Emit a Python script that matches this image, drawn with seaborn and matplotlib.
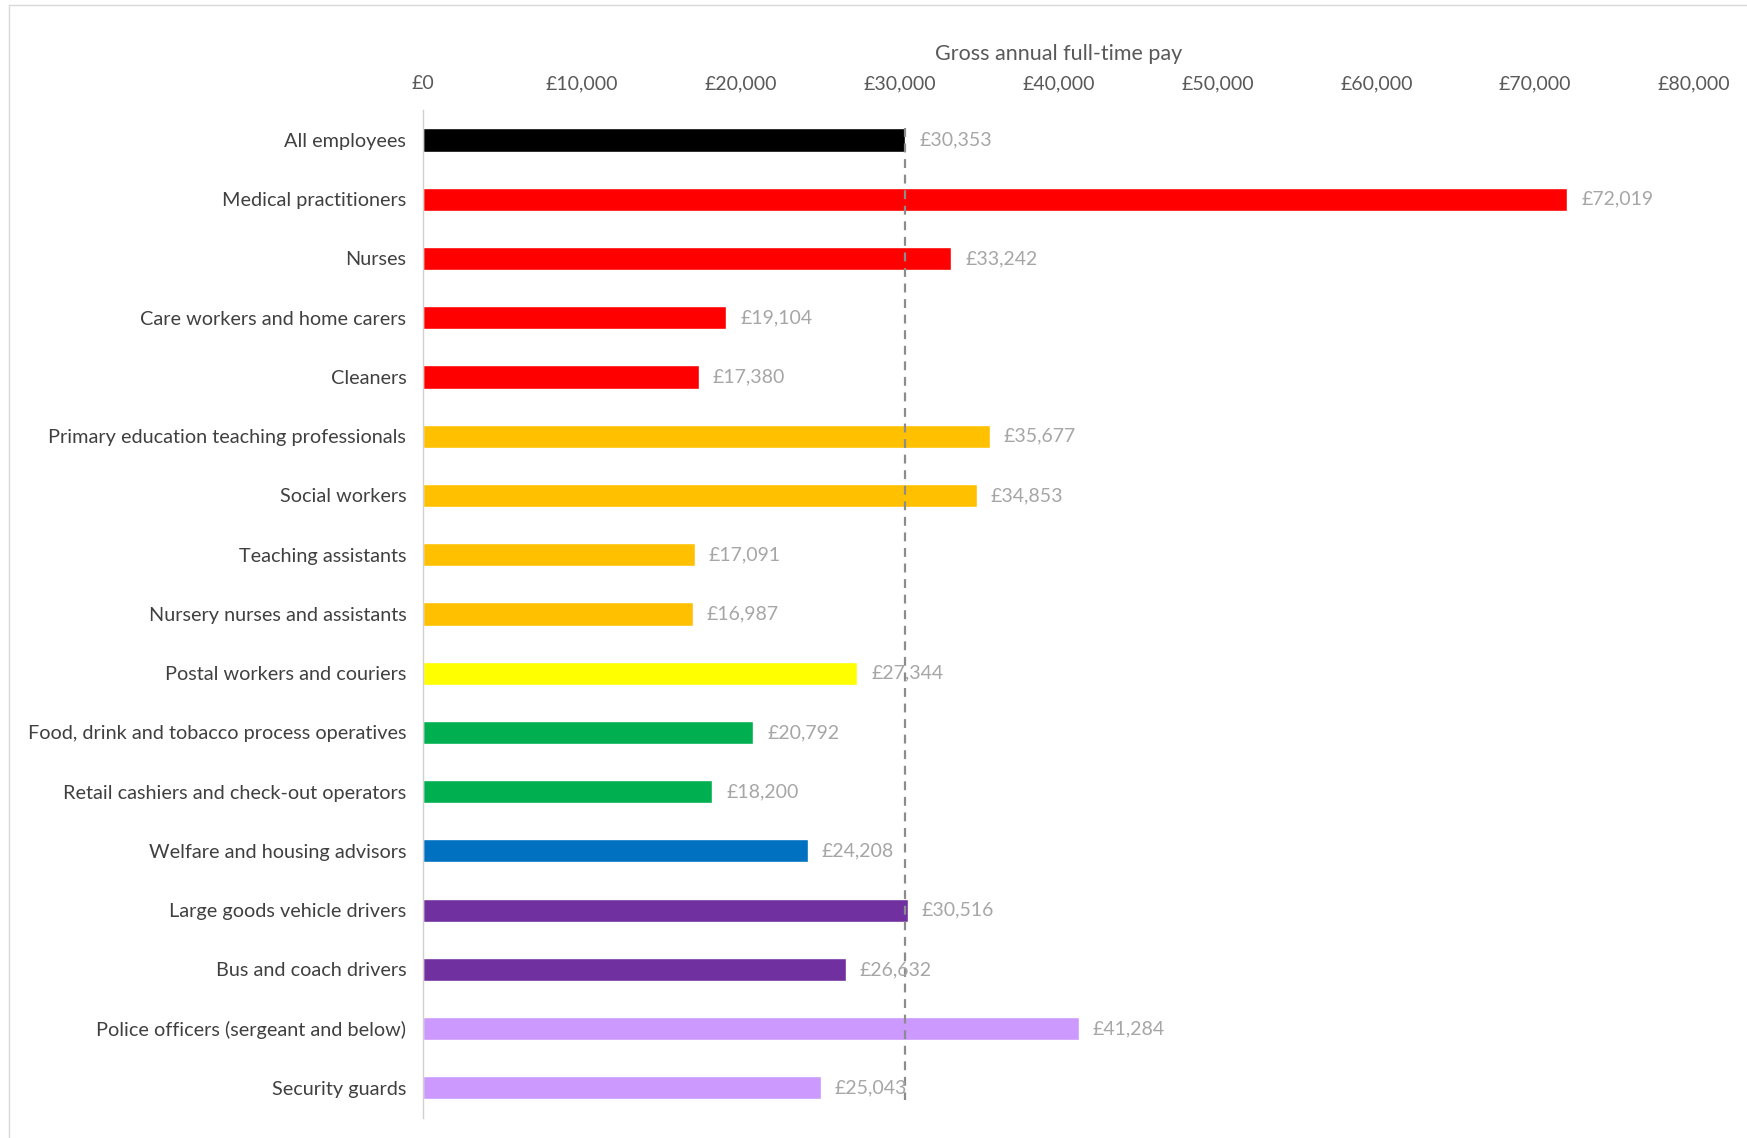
import matplotlib
matplotlib.use("Agg")
import matplotlib.pyplot as plt
import seaborn as sns
import pandas as pd
from matplotlib.ticker import FuncFormatter

# Occupations and median gross annual full-time pay (GBP)
occupations = [
    "All employees",
    "Medical practitioners",
    "Nurses",
    "Care workers and home carers",
    "Cleaners",
    "Primary education teaching professionals",
    "Social workers",
    "Teaching assistants",
    "Nursery nurses and assistants",
    "Postal workers and couriers",
    "Food, drink and tobacco process operatives",
    "Retail cashiers and check-out operators",
    "Welfare and housing advisors",
    "Large goods vehicle drivers",
    "Bus and coach drivers",
    "Police officers (sergeant and below)",
    "Security guards",
]
pay = [30353, 72019, 33242, 19104, 17380, 35677, 34853, 17091, 16987,
       27344, 20792, 18200, 24208, 30516, 26632, 41284, 25043]
bar_colors = [
    "#000000",
    "#FF0000", "#FF0000", "#FF0000", "#FF0000",
    "#FFC000", "#FFC000", "#FFC000", "#FFC000",
    "#FFFF00",
    "#00B050", "#00B050",
    "#0070C0",
    "#7030A0", "#7030A0",
    "#CC99FF", "#CC99FF",
]
x_ticks = [0, 10000, 20000, 30000, 40000, 50000, 60000, 70000, 80000]

df = pd.DataFrame({"occupation": occupations, "pay": pay})

sns.set_theme(style="white")
plt.rcParams["font.family"] = ["Lato", "DejaVu Sans"]

fig = plt.figure(figsize=(17.47, 11.38), dpi=100)
ax = fig.add_axes([0.2421, 0.018, 0.7276, 0.885])

sns.barplot(data=df, x="pay", y="occupation", hue="occupation",
            palette=bar_colors, orient="h", width=0.39, legend=False,
            saturation=1, ax=ax)

ax.set_xlim(0, 80000)
ax.set_ylim(len(occupations) - 0.5, -0.5)
ax.set_xticks(x_ticks)
ax.xaxis.set_major_formatter(FuncFormatter(lambda v, p: f"£{int(v):,}"))
ax.xaxis.tick_top()
ax.xaxis.set_label_position("top")
ax.tick_params(axis="x", length=0, pad=13, labelsize=14, labelcolor="#595959")
ax.tick_params(axis="y", length=0, pad=12, labelsize=14.3, labelcolor="#404040")
ax.set_xlabel("Gross annual full-time pay", fontsize=15.5, color="#595959", labelpad=11)
ax.set_ylabel("")

for side in ["top", "right", "bottom"]:
    ax.spines[side].set_visible(False)
ax.spines["left"].set_color("#d0d0d0")
ax.spines["left"].set_linewidth(1)

# Reference line at the all-employees value
avg = pay[0]
ax.plot([avg, avg], [-0.2, len(occupations) - 0.8], linestyle=(0, (4, 3)),
        color="#8c8c8c", linewidth=1.6, zorder=3)

# Value labels at the end of each bar
for i, v in enumerate(pay):
    ax.annotate(f"£{v:,}", xy=(v, i), xytext=(10, 0), textcoords="offset points",
                va="center", ha="left", fontsize=14, color="#a6a6a6", zorder=4)

# Chart area frame lines
fig.add_artist(plt.Line2D([9 / 1747, 9 / 1747], [0, 1 - 5 / 1138],
                          color="#d9d9d9", linewidth=1, transform=fig.transFigure))
fig.add_artist(plt.Line2D([9 / 1747, 1], [1 - 5 / 1138, 1 - 5 / 1138],
                          color="#d9d9d9", linewidth=1, transform=fig.transFigure))

fig.savefig("out.png", dpi=100, facecolor="white")
